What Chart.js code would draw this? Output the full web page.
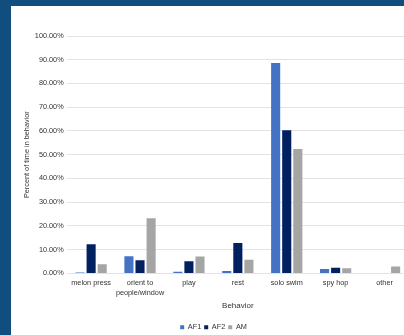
<!DOCTYPE html>
<html>
<head>
<meta charset="utf-8">
<script src="https://cdn.jsdelivr.net/npm/chart.js@4.4.1/dist/chart.umd.min.js"></script>
<style>
  html, body { margin: 0; padding: 0; overflow: hidden; }
  body { width: 404px; height: 335px; background: #114d7d; position: relative; }
  #panel { position: absolute; left: 11px; top: 6px; width: 410px; height: 329px; background: #fff; }
</style>
</head>
<body>
<div id="panel"><canvas id="behaviorChart" width="410" height="329"></canvas></div>
<script>
// Behavior categories and share of time per animal
const behaviors = ['melon press', ['orient to', 'people/window'], 'play', 'rest', 'solo swim', 'spy hop', 'other'];
const af1 = [0.004, 0.072, 0.007, 0.010, 0.886, 0.018, 0];
const af2 = [0.123, 0.055, 0.051, 0.128, 0.603, 0.024, 0];
const am = [0.039, 0.232, 0.071, 0.057, 0.524, 0.022, 0.029];

const font = { family: 'Liberation Sans, Arial, sans-serif', size: 7.3, lineHeight: 1.35 };

new Chart(document.getElementById('behaviorChart'), {
    type: 'bar',
    data: {
        labels: behaviors,
        datasets: [
            { label: 'AF1', data: af1, backgroundColor: '#4472c4' },
            { label: 'AF2', data: af2, backgroundColor: '#002060' },
            { label: 'AM', data: am, backgroundColor: '#a5a5a5' }
        ]
    },
    options: {
        responsive: false,
        animation: false,
        categoryPercentage: 0.68,
        barPercentage: 0.82,
        layout: { padding: { top: 30, left: 7, right: 12, bottom: -6 } },
        plugins: {
            tooltip: { enabled: false },
            legend: {
                position: 'bottom',
                labels: { font: font, color: '#333', boxWidth: 4, boxHeight: 4, padding: 3 }
            }
        },
        scales: {
            x: {
                grid: { display: false },
                border: { display: false },
                ticks: { font: font, color: '#333', maxRotation: 0, autoSkip: false, padding: -3.5 },
                title: { display: true, text: 'Behavior', font: { family: font.family, size: 8 }, color: '#333', padding: { top: 7, bottom: 10 } }
            },
            y: {
                min: 0,
                max: 1,
                border: { display: false },
                grid: { color: '#e3e3e3', drawTicks: false },
                ticks: {
                    stepSize: 0.1,
                    font: font,
                    color: '#333',
                    padding: 3,
                    callback: v => (v * 100).toFixed(2) + '%'
                },
                title: { display: true, text: 'Percent of time in behavior', font: font, color: '#333', padding: { top: 4, bottom: 0 } }
            }
        }
    }
});
</script>
</body>
</html>
